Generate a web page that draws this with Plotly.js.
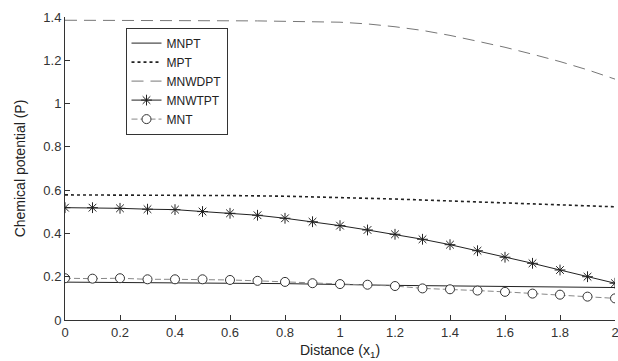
<!DOCTYPE html>
<html>
<head>
<meta charset="utf-8">
<script src="https://cdn.plot.ly/plotly-3.0.1.min.js"></script>
<style>html,body{margin:0;padding:0;background:#fff;}#chart{width:618px;height:361px;}</style>
</head>
<body>
<div id="chart"></div>
<script>
const xFine = [0,0.1,0.2,0.3,0.4,0.5,0.6,0.7,0.8,0.9,1.0,1.1,1.2,1.3,1.4,1.5,1.6,1.7,1.8,1.9,2.0];
const xCoarse = [0,0.2,0.4,0.6,0.8,1.0,1.2,1.4,1.6,1.8,2.0];
const mnptX = [0,0.4,0.8,1.2,1.6,2.0];
const mnptY = [0.175,0.173,0.168,0.160,0.154,0.150];
const mptY = [0.578,0.578,0.577,0.575,0.572,0.566,0.559,0.550,0.541,0.532,0.523];
const mnwdptY = [1.385,1.385,1.385,1.385,1.384,1.384,1.383,1.382,1.380,1.379,1.376,1.368,1.355,1.338,1.315,1.288,1.260,1.228,1.194,1.156,1.113];
const mnwtptY = [0.519,0.519,0.516,0.512,0.510,0.501,0.493,0.484,0.470,0.454,0.436,0.416,0.396,0.373,0.348,0.320,0.290,0.262,0.231,0.200,0.170];
const mntY = [0.193,0.191,0.193,0.188,0.188,0.188,0.185,0.181,0.176,0.170,0.166,0.163,0.157,0.146,0.142,0.136,0.130,0.122,0.117,0.108,0.100];
const xTicks = [0,0.2,0.4,0.6,0.8,1,1.2,1.4,1.6,1.8,2];
const yTicks = [0,0.2,0.4,0.6,0.8,1,1.2,1.4];

const traces = [
  {x: mnptX, y: mnptY, name: 'MNPT', mode: 'lines', line: {color: '#222', width: 1}},
  {x: xCoarse, y: mptY, name: 'MPT', mode: 'lines', line: {color: '#222', width: 1.6, dash: 'dot'}},
  {x: xFine, y: mnwdptY, name: 'MNWDPT', mode: 'lines', line: {color: '#777', width: 1, dash: '12px,7px'}},
  {x: xFine, y: mnwtptY, name: 'MNWTPT', mode: 'lines+markers', line: {color: '#222', width: 1},
   marker: {symbol: 'asterisk-open', size: 9, color: '#222', line: {color: '#222', width: 1}}},
  {x: xFine, y: mntY, name: 'MNT', mode: 'lines+markers', line: {color: '#888', width: 1, dash: '6px,3px'},
   marker: {symbol: 'circle', size: 9, color: '#fff', line: {color: '#333', width: 1}}}
];

const layout = {
  width: 618, height: 361,
  margin: {l: 65, r: 3, t: 17, b: 41},
  paper_bgcolor: '#fff', plot_bgcolor: '#fff',
  font: {family: 'Liberation Sans, Arial, sans-serif', color: '#222', size: 13},
  showlegend: true,
  legend: {x: 0.11, y: 0.965, xanchor: 'left', yanchor: 'top', bgcolor: '#fff',
           bordercolor: '#333', borderwidth: 1, font: {size: 12, color: '#222'},
           tracegroupgap: 0, itemwidth: 30},
  xaxis: {range: [0, 2], tickvals: xTicks, ticktext: xTicks.map(String), ticks: 'inside', ticklen: 5,
          tickcolor: '#333', showline: true, linecolor: '#333', linewidth: 1, showgrid: false, zeroline: false,
          ticklabeloverflow: 'allow', tickfont: {size: 13, color: '#333'},
          title: {text: 'Distance (x<sub>1</sub>)', font: {size: 14, color: '#222'}, standoff: 6}},
  yaxis: {range: [0, 1.4], tickvals: yTicks, ticktext: yTicks.map(String), ticks: 'inside', ticklen: 5,
          tickcolor: '#333', showline: true, linecolor: '#333', linewidth: 1, showgrid: false, zeroline: false,
          ticklabeloverflow: 'allow', tickfont: {size: 13, color: '#333'},
          title: {text: 'Chemical potential (P)', font: {size: 14, color: '#222'}, standoff: 14}}
};

Plotly.newPlot('chart', traces, layout, {displayModeBar: false, staticPlot: true});
</script>
</body>
</html>
